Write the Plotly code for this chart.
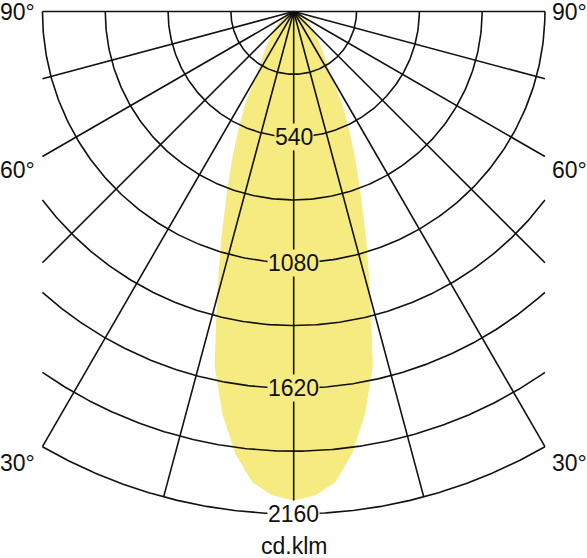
import numpy as np
import plotly.graph_objects as go

# ---- data ----
angles_deg = [0, 2.5, 5, 7.5, 10, 12.5, 15, 17.5, 20, 22.5, 25, 27.5, 30, 35, 40, 45, 50, 60, 70, 80, 90]
intensity = [2100, 2080, 2030, 1915, 1755, 1560, 1265, 1030, 835, 685, 555, 445, 310, 220, 160, 120, 90, 50, 25, 10, 0]

ring_values = [270, 540, 810, 1080, 1350, 1620, 1890, 2160]
ring_labels = [540, 1080, 1620, 2160]
spoke_angles = [-90, -75, -60, -45, -30, -15, 0, 15, 30, 45, 60, 75, 90]
angle_labels = [90, 60, 30]
unit_label = "cd.klm"

R_MAX = 2160
X_CLIP = 1080

# ---- geometry of the page ----
W, H = 587, 558
CX, CY = 293.7, 11.5          # pixel position of the pole
K = 502.5 / R_MAX             # pixels per cd/klm

x_range = [-CX / K, (W - CX) / K]
y_range = [-(H - CY) / K, CY / K]

FILL = "#F6EB80"
LINE = "#111111"
FONT = dict(family="Liberation Sans, Arial, sans-serif", size=23, color="#111111")

fig = go.Figure()

# light distribution curve (symmetric)
a = np.radians(np.array(angles_deg))
i = np.array(intensity, dtype=float)
th = np.concatenate([-a[::-1], a[1:]])
ii = np.concatenate([i[::-1], i[1:]])
fig.add_trace(go.Scatter(
    x=ii * np.sin(th), y=-ii * np.cos(th),
    mode="lines", fill="toself", fillcolor=FILL,
    line=dict(color=FILL, width=1),
    hoverinfo="skip",
))

# grid: rings clipped to |x| <= X_CLIP
gx, gy = [], []
for R in ring_values:
    half = np.arcsin(min(1.0, X_CLIP / R))
    t = np.linspace(-half, half, 241)
    gx += list(R * np.sin(t)) + [None]
    gy += list(-R * np.cos(t)) + [None]
# spokes
for ang in spoke_angles:
    t = np.radians(ang)
    L = R_MAX if ang == 0 else min(R_MAX, X_CLIP / abs(np.sin(t)))
    gx += [0, L * np.sin(t), None]
    gy += [0, -L * np.cos(t), None]
fig.add_trace(go.Scatter(x=gx, y=gy, mode="lines",
                         line=dict(color=LINE, width=1.6), hoverinfo="skip"))

# radial value labels on the vertical axis
for v in ring_labels:
    inside = v < max(intensity)
    fig.add_annotation(x=0, y=-v, text=str(v), showarrow=False, font=FONT,
                       bgcolor=FILL if inside else "white", borderpad=0)

# angle labels at both sides
shifts = {90: 0, 60: -13, 30: -16}
for ang in angle_labels:
    t = np.radians(ang)
    yv = -X_CLIP / np.tan(t) if ang != 90 else 0.0
    for side in (-1, 1):
        fig.add_annotation(x=side * X_CLIP, y=yv, text=f"{ang}°", showarrow=False,
                           font=FONT, xanchor="right" if side < 0 else "left",
                           xshift=-5 * (1 if side < 0 else -1), yshift=shifts[ang])

fig.add_annotation(x=0, y=-(546 - CY) / K, text=unit_label, showarrow=False, font=FONT)

fig.update_layout(
    width=W, height=H, margin=dict(l=0, r=0, t=0, b=0),
    paper_bgcolor="white", plot_bgcolor="white", showlegend=False,
    xaxis=dict(range=x_range, visible=False, fixedrange=True),
    yaxis=dict(range=y_range, visible=False, fixedrange=True),
)

fig.write_html("out.html", config={"displayModeBar": False},
               post_script="document.body.style.margin='0';document.body.style.overflow='hidden';")
